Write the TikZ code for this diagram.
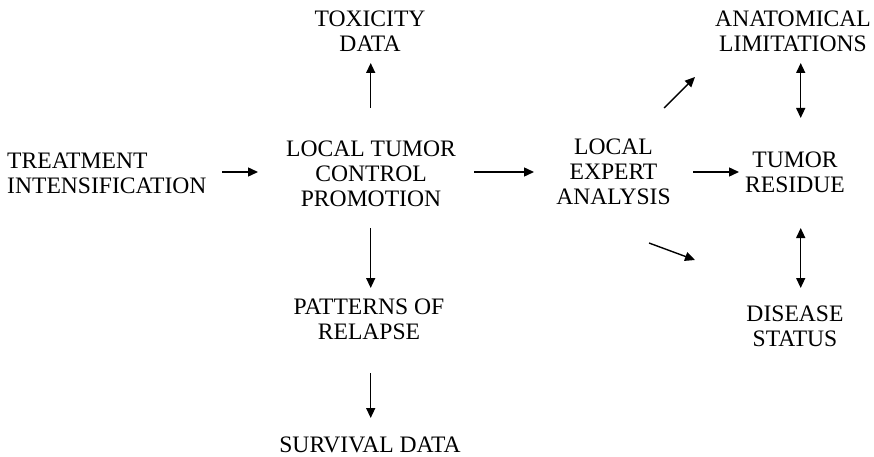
\documentclass[tikz,border=0pt]{standalone}
\usepackage{fontspec}
\setmainfont{Liberation Serif}
\usetikzlibrary{arrows.meta}
\begin{document}
\begin{tikzpicture}[x=1pt,y=-1pt,
  lbl/.style={align=center,inner sep=0pt,font=\fontsize{23.6}{25}\selectfont},
  arr/.style={line width=1.4pt,-{Triangle[length=10pt,width=9pt]}},
  darr/.style={line width=1.4pt,{Triangle[length=10pt,width=9pt]}-{Triangle[length=10pt,width=9pt]}}]
\useasboundingbox[fill=white] (0,0) rectangle (874,457);
\node[lbl,align=left,anchor=west] (treat) at (7,173) {TREATMENT\\INTENSIFICATION};
\node[lbl] (ltc) at (371,174) {LOCAL TUMOR\\CONTROL\\PROMOTION};
\node[lbl] (tox) at (370,31) {TOXICITY\\DATA};
\node[lbl] (pat) at (369,319) {PATTERNS OF\\RELAPSE};
\node[lbl] (surv) at (370,444.5) {SURVIVAL DATA};
\node[lbl] (lea) at (613.5,171.5) {LOCAL\\EXPERT\\ANALYSIS};
\node[lbl] (tr) at (795,172) {TUMOR\\RESIDUE};
\node[lbl] (anat) at (793,31.5) {ANATOMICAL\\LIMITATIONS};
\node[lbl] (dis) at (795,326.7) {DISEASE\\STATUS};
% arrow end points
\coordinate (a1s) at (222,172); \coordinate (a1e) at (258,172);
\coordinate (a2s) at (370.7,108); \coordinate (a2e) at (370.7,63);
\coordinate (a3s) at (370.7,228); \coordinate (a3e) at (370.7,288);
\coordinate (a4s) at (370.7,373); \coordinate (a4e) at (370.7,418);
\coordinate (a5s) at (474,172); \coordinate (a5e) at (534,172);
\coordinate (a6s) at (693,172); \coordinate (a6e) at (739,172);
\coordinate (a7s) at (664,108); \coordinate (a7e) at (695,77);
\coordinate (a8s) at (649,243); \coordinate (a8e) at (695,260);
\coordinate (a9s) at (800.7,63); \coordinate (a9e) at (800.7,118);
\coordinate (a10s) at (800.7,228); \coordinate (a10e) at (800.7,288);
\draw[arr] (a1s) -- (a1e);
\draw[arr] (a2s) -- (a2e);
\draw[arr] (a3s) -- (a3e);
\draw[arr] (a4s) -- (a4e);
\draw[arr] (a5s) -- (a5e);
\draw[arr] (a6s) -- (a6e);
\draw[arr] (a7s) -- (a7e);
\draw[arr] (a8s) -- (a8e);
\draw[darr] (a9s) -- (a9e);
\draw[darr] (a10s) -- (a10e);
\end{tikzpicture}
\end{document}
